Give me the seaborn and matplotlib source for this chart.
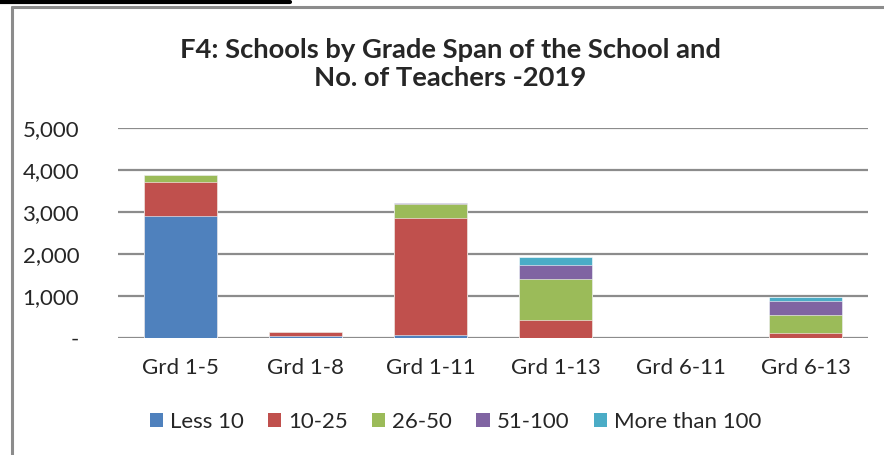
import matplotlib
matplotlib.use("Agg")
import matplotlib.pyplot as plt
from matplotlib.patches import Patch
from matplotlib.lines import Line2D
import seaborn as sns
import numpy as np
import pandas as pd

# data
grades = ["Grd 1-5", "Grd 1-8", "Grd 1-11", "Grd 1-13", "Grd 6-11", "Grd 6-13"]
series = ["Less 10", "10-25", "26-50", "51-100", "More than 100"]
less10 = [2900, 60, 75, 10, 0, 5]
t10_25 = [820, 90, 2790, 430, 5, 115]
t26_50 = [160, 0, 320, 960, 0, 440]
t51_100 = [0, 0, 25, 340, 0, 325]
more100 = [0, 0, 0, 185, 0, 100]
colors = ["#4F81BD", "#C0504D", "#9BBB59", "#8064A2", "#4BACC6"]

sns.set_style("white")
plt.rcParams["font.family"] = ["Lato", "DejaVu Sans"]

values = np.array([less10, t10_25, t26_50, t51_100, more100])
cum = values.cumsum(axis=0)

fig = plt.figure(figsize=(8.84, 4.55), dpi=100)
ax = fig.add_axes([0.1335, 0.257, 0.8485, 0.4617])

# stacked bars: draw cumulative totals from the top series down
for i in range(len(series) - 1, -1, -1):
    df = pd.DataFrame({"grade": grades, "value": cum[i]})
    sns.barplot(data=df, x="grade", y="value", color=colors[i], width=0.58,
                saturation=1, edgecolor="white", linewidth=0.4, ax=ax, zorder=3)

ax.set_ylim(0, 5000)
ax.set_xlim(-0.5, len(grades) - 0.5)
ticks = [0, 1000, 2000, 3000, 4000, 5000]
ax.set_yticks(ticks)
ax.set_yticklabels(["-" if t == 0 else f"{t:,}" for t in ticks], fontsize=16)
ax.tick_params(axis="y", length=0, pad=28)
ax.tick_params(axis="x", length=0, pad=14, labelsize=16)
ax.set_xlabel("")
ax.set_ylabel("")
for t in ticks:
    ax.axhline(t, color="#8c8c8c", linewidth=1.6, zorder=1)
for s in ax.spines.values():
    s.set_visible(False)

fig.text(0.509, 0.86, "F4: Schools by Grade Span of the School and\nNo. of Teachers -2019",
         ha="center", va="center", fontsize=19.7, fontweight="bold", linespacing=1.22)

handles = [Patch(facecolor=c, edgecolor="none") for c in colors]
fig.legend(handles, series, loc="center", bbox_to_anchor=(0.515, 0.073), ncol=5,
           frameon=False, fontsize=16, handlelength=0.6, handleheight=0.6,
           columnspacing=1.1, handletextpad=0.3)

# frame lines of the original figure
fig.add_artist(Line2D([12 / 884, 1], [1 - 7 / 455, 1 - 7 / 455], color="#8c8c8c", linewidth=2.2))
fig.add_artist(Line2D([12 / 884, 12 / 884], [0, 1 - 7 / 455], color="#8c8c8c", linewidth=2.2))
fig.add_artist(Line2D([0, 290 / 884], [1 - 1.5 / 455, 1 - 1.5 / 455], color="black", linewidth=3))

fig.savefig("out.png", dpi=100)
